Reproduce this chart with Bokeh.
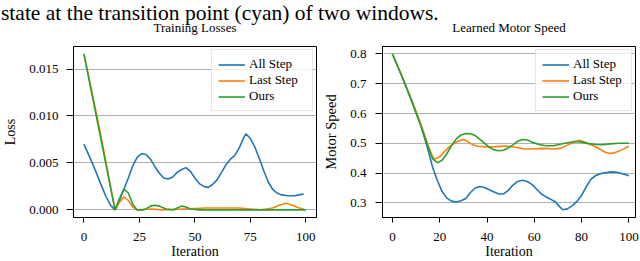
from bokeh.plotting import figure
from bokeh.layouts import column, row
from bokeh.models import (Div, Range1d, FixedTicker, PrintfTickFormatter,
                          Legend, LegendItem, GlobalInlineStyleSheet)
from bokeh.embed import file_html
from bokeh.resources import INLINE

# ---------------- data ----------------
caption = "state at the transition point (cyan) of two windows."
title_loss = "Training Losses"
title_speed = "Learned Motor Speed"
series_names = ["All Step", "Last Step", "Ours"]
colors = ["#1f77b4", "#ff7f0e", "#2ca02c"]

loss_all_x = [0, 3, 5, 8, 10, 12, 14, 16, 18, 20, 22, 24, 26, 28, 30, 32, 34, 36, 38, 40,
              42, 44, 46, 48, 50, 52, 54, 56, 58, 60, 62, 64, 66, 68, 70, 72, 73, 75, 77,
              79, 81, 83, 85, 87, 89, 92, 95, 97, 99]
loss_all_y = [0.0070, 0.0054, 0.0043, 0.0025, 0.0014, 0.0005, 0.0000, 0.0010, 0.0022, 0.0034,
              0.0047, 0.0056, 0.0060, 0.0059, 0.0054, 0.0046, 0.0039, 0.0034, 0.0033, 0.0035,
              0.0040, 0.0043, 0.0045, 0.0041, 0.0034, 0.0028, 0.0025, 0.0024, 0.0027, 0.0032,
              0.0040, 0.0048, 0.0054, 0.0058, 0.0066, 0.0077, 0.0081, 0.0076, 0.0067, 0.0055,
              0.0042, 0.0030, 0.0022, 0.0018, 0.0016, 0.0015, 0.0015, 0.0016, 0.0017]

loss_last_x = [0, 7, 14, 16, 18, 20, 22, 24, 30, 35, 45, 55, 60, 65, 70, 75, 80, 85, 88,
               91, 94, 97, 99]
loss_last_y = [0.0166, 0.0087, 0.0000, 0.0008, 0.0014, 0.0010, 0.0003, 0.0000, 0.0001,
               0.0000, 0.0001, 0.0002, 0.0002, 0.0002, 0.0002, 0.0001, 0.0000, 0.0002,
               0.0005, 0.0007, 0.0005, 0.0002, 0.0001]

loss_ours_x = [0, 14, 16, 18, 20, 22, 24, 27, 30, 32, 34, 37, 40, 42, 44, 46, 48, 52, 100]
loss_ours_y = [0.0166, 0.0000, 0.0012, 0.0022, 0.0018, 0.0006, 0.0000, 0.0000, 0.0004,
               0.0005, 0.0004, 0.0001, 0.0000, 0.0002, 0.0004, 0.0003, 0.0001, 0.0000, 0.0000]

speed_all_x = [0, 4, 8, 12, 15, 17, 19, 21, 23, 25, 27, 29, 31, 33, 35, 37, 39, 42, 45, 47,
               49, 51, 53, 55, 57, 59, 61, 63, 65, 67, 69, 71, 72, 74, 76, 78, 80, 82, 84,
               86, 89, 92, 95, 98, 100]
speed_all_y = [0.800, 0.725, 0.645, 0.560, 0.480, 0.420, 0.375, 0.338, 0.316, 0.306, 0.303,
               0.307, 0.315, 0.335, 0.350, 0.355, 0.352, 0.340, 0.330, 0.330, 0.342, 0.360,
               0.372, 0.376, 0.372, 0.362, 0.346, 0.330, 0.320, 0.312, 0.303, 0.285, 0.277,
               0.280, 0.290, 0.305, 0.325, 0.355, 0.380, 0.392, 0.400, 0.404, 0.403, 0.396,
               0.391]

speed_last_x = [0, 4, 8, 12, 15, 17, 18, 20, 22, 24, 26, 28, 30, 32, 34, 36, 40, 44, 48, 52,
                56, 60, 64, 68, 71, 74, 77, 79, 81, 84, 87, 90, 92, 94, 97, 100]
speed_last_y = [0.800, 0.726, 0.648, 0.565, 0.495, 0.455, 0.447, 0.455, 0.472, 0.488, 0.500,
                0.508, 0.513, 0.505, 0.495, 0.490, 0.488, 0.489, 0.491, 0.487, 0.481, 0.482,
                0.483, 0.481, 0.483, 0.494, 0.505, 0.510, 0.505, 0.495, 0.484, 0.470, 0.466,
                0.468, 0.478, 0.490]

speed_ours_x = [0, 4, 8, 12, 15, 17, 19, 21, 23, 25, 27, 29, 31, 33, 35, 37, 39, 41, 43, 45,
                47, 49, 51, 53, 55, 57, 59, 62, 65, 68, 71, 74, 77, 80, 83, 86, 89, 92, 96, 100]
speed_ours_y = [0.800, 0.725, 0.645, 0.560, 0.490, 0.448, 0.435, 0.443, 0.465, 0.492, 0.515,
                0.528, 0.533, 0.532, 0.526, 0.513, 0.500, 0.487, 0.478, 0.475, 0.477, 0.485,
                0.495, 0.507, 0.513, 0.511, 0.504, 0.496, 0.492, 0.492, 0.497, 0.502, 0.506,
                0.504, 0.499, 0.496, 0.495, 0.498, 0.500, 0.500]

loss_ticks = [0.0, 0.005, 0.010, 0.015]
loss_iter_ticks = [0, 25, 50, 75, 100]
speed_ticks = [0.3, 0.4, 0.5, 0.6, 0.7, 0.8]
speed_iter_ticks = [0, 20, 40, 60, 80, 100]

# ---------------- styling helpers ----------------
SERIF = "Liberation Serif"
TOP = 6  # height of the caption strip


def make_fig(title, ylabel, xr, yr, xticks, yticks, yfmt, border_left, border_right, border_top,
             ylabel_size, ylabel_standoff, ytick_standoff):
    p = figure(width=320, height=261 - TOP, output_backend="svg", toolbar_location=None,
               x_range=Range1d(*xr), y_range=Range1d(*yr),
               min_border_left=border_left, min_border_right=border_right,
               min_border_top=border_top, min_border_bottom=44,
               border_fill_color=None, background_fill_color="white")
    p.title.text = title
    p.title.text_font = SERIF
    p.title.text_font_size = "13px"
    p.title.text_font_style = "normal"
    p.title.text_line_height = 1.0
    p.title.align = "center"
    p.title.text_color = "black"
    p.title.standoff = 23
    p.outline_line_color = "black"
    p.outline_line_width = 1
    p.xgrid.visible = False
    p.ygrid.grid_line_color = "#b0b0b0"
    p.ygrid.grid_line_width = 1
    for ax in (p.xaxis[0], p.yaxis[0]):
        ax.axis_line_color = "black"
        ax.major_tick_line_color = "black"
        ax.major_tick_in = 0
        ax.minor_tick_line_color = None
        ax.major_label_text_font = SERIF
        ax.major_label_text_font_size = "13px"
        ax.major_label_text_color = "black"
        ax.major_label_text_line_height = 1.0
        ax.axis_label_text_font = SERIF
        ax.axis_label_text_font_style = "normal"
        ax.axis_label_text_color = "black"
        ax.axis_label_text_line_height = 1.0
    xa, ya = p.xaxis[0], p.yaxis[0]
    xa.major_tick_out = 5
    xa.major_label_standoff = 10
    xa.axis_label = "Iteration"
    xa.axis_label_text_font_size = "14px"
    xa.axis_label_standoff = 0
    xa.ticker = FixedTicker(ticks=xticks)
    ya.major_tick_out = 7
    ya.major_label_standoff = ytick_standoff
    ya.axis_label = ylabel
    ya.axis_label_text_font_size = ylabel_size
    ya.axis_label_standoff = ylabel_standoff
    ya.ticker = FixedTicker(ticks=yticks)
    ya.formatter = PrintfTickFormatter(format=yfmt)
    return p


def add_series(p, xs_list, ys_list, label_width):
    items = []
    for name, c, xs, ys in zip(series_names, colors, xs_list, ys_list):
        r = p.line(xs, ys, line_color=c, line_width=1.6)
        items.append(LegendItem(label=name, renderers=[r]))
    leg = Legend(items=items, location="top_right", margin=3, padding=6, spacing=0,
                 label_text_font=SERIF, label_text_font_size="13px", label_text_color="black",
                 label_height=15, glyph_height=15, glyph_width=27, label_standoff=4,
                 label_width=label_width, border_line_color="#cccccc", border_line_width=1,
                 background_fill_color="white", background_fill_alpha=0.8)
    p.add_layout(leg, "center")


p1 = make_fig(title_loss, "Loss", (-4.7, 104.8), (-0.00081, 0.0174), loss_iter_ticks,
              loss_ticks, "%.3f", 68, 4, 37, "14px", 8, 8)
add_series(p1, [loss_all_x, loss_last_x, loss_ours_x], [loss_all_y, loss_last_y, loss_ours_y], 57)

p2 = make_fig(title_speed, "Motor Speed", (-4.2, 102.8), (0.251, 0.825), speed_iter_ticks,
              speed_ticks, "%.1f", 59, 5, 36, "14.5px", 8, 9)
add_series(p2, [speed_all_x, speed_last_x, speed_ours_x],
           [speed_all_y, speed_last_y, speed_ours_y], 52)

div = Div(text=('<span style="font-family:\'Liberation Serif\',serif;font-size:21.5px;'
                'line-height:6px;white-space:nowrap;color:black;display:block;'
                'position:relative;top:8px;margin:0;padding:0 0 0 1px;">'
                + caption + '</span>'),
          width=640, height=TOP,
          styles={"margin": "0", "padding": "0", "overflow": "visible", "z-index": "1"})

css = GlobalInlineStyleSheet(css="html, body {margin:0 !important; padding:0; overflow:hidden;}")
layout = column(div, row(p1, p2, spacing=0), spacing=0, stylesheets=[css],
                styles={"position": "absolute", "top": "0px", "left": "0px"})

open("out.html", "w").write(file_html(layout, INLINE))
